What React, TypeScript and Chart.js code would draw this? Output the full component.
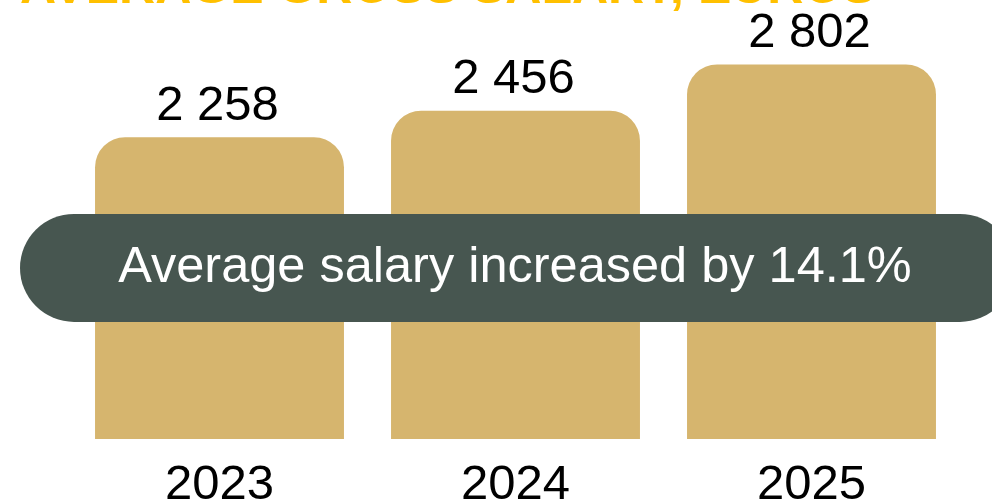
import React, { useEffect, useRef } from "react";
import { Chart, registerables } from "chart.js";

Chart.register(...registerables);

// ---- Data ----
const categories = ["2023", "2024", "2025"];
const salaryValues = [2258, 2456, 2802];
const titleText = "AVERAGE GROSS SALARY, EUROS";
const calloutText = "Average salary increased by 14.1%";
const calloutValue = 1280; // y-value where the callout pill is centred

const FONT = '"Liberation Sans", Arial, Helvetica, sans-serif';

function formatThousands(v: number): string {
  return String(v).replace(/\B(?=(\d{3})+(?!\d))/g, " ");
}

const overlayPlugin = {
  id: "overlay",
  afterDatasetsDraw(chart: any) {
    const ctx = chart.ctx as CanvasRenderingContext2D;
    const meta = chart.getDatasetMeta(0);
    ctx.save();

    // value labels above bars
    ctx.font = `49px ${FONT}`;
    ctx.fillStyle = "#000000";
    ctx.textAlign = "center";
    ctx.textBaseline = "alphabetic";
    meta.data.forEach((bar: any, i: number) => {
      ctx.fillText(formatThousands(salaryValues[i]), bar.x - 2, bar.y - 17.5);
    });

    // callout pill
    const yScale = chart.scales.y;
    const cy = yScale.getPixelForValue(calloutValue);
    const h = 108;
    const left = 20;
    const right = chart.width + 22;
    ctx.fillStyle = "#475650";
    ctx.beginPath();
    (ctx as any).roundRect(left, cy - h / 2, right - left, h, h / 2);
    ctx.fill();
    ctx.fillStyle = "#ffffff";
    ctx.font = `50.5px ${FONT}`;
    ctx.fillText(calloutText, (left + right) / 2 - 2, cy + 14);

    // title (mostly cut off at the top)
    ctx.font = `bold 50px ${FONT}`;
    ctx.fillStyle = "#FFC000";
    ctx.textAlign = "left";
    ctx.fillText(titleText, 20, 2.5);

    ctx.restore();
  },
};

export default function App() {
  const canvasRef = useRef<HTMLCanvasElement | null>(null);

  useEffect(() => {
    if (!canvasRef.current) return;
    const chart = new Chart(canvasRef.current, {
      type: "bar",
      data: {
        labels: categories,
        datasets: [
          {
            data: salaryValues,
            backgroundColor: "#D6B56E",
            borderWidth: 0,
            borderRadius: { topLeft: 30, topRight: 30, bottomLeft: 0, bottomRight: 0 },
            borderSkipped: false,
            categoryPercentage: 1,
            barPercentage: 0.841,
          },
        ],
      },
      options: {
        responsive: false,
        animation: false,
        devicePixelRatio: 1,
        layout: { padding: { left: 71.5, right: 32.5, top: 38, bottom: 0 } },
        plugins: {
          legend: { display: false },
          title: { display: false },
          tooltip: { enabled: false },
        },
        scales: {
          x: {
            grid: { display: false, drawTicks: false },
            border: { display: false },
            ticks: {
              color: "#000000",
              font: { family: FONT, size: 49 },
              padding: 17,
            },
            afterFit: (scale: any) => {
              scale.height = 62;
            },
          },
          y: {
            display: false,
            min: 0,
            max: 3000,
          },
        },
      },
      plugins: [overlayPlugin],
    });
    return () => chart.destroy();
  }, []);

  return (
    <canvas
      ref={canvasRef}
      width={992}
      height={501}
      style={{ position: "fixed", left: 0, top: 0, width: 992, height: 501, display: "block" }}
    />
  );
}
